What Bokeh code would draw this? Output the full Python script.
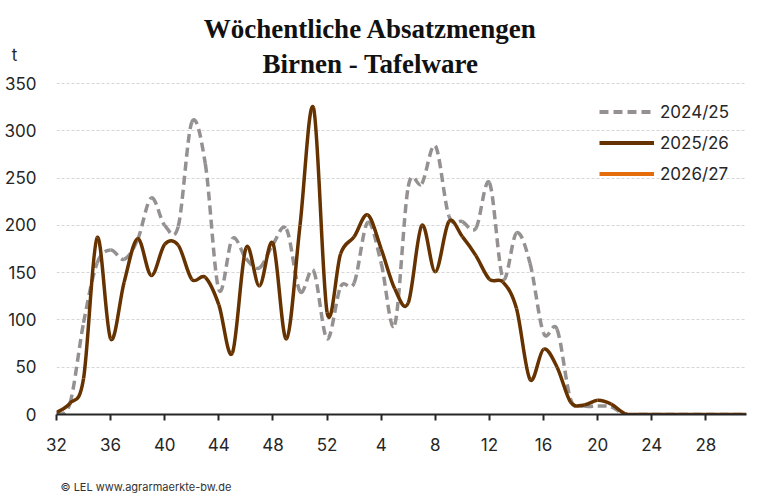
from bokeh.plotting import figure
from bokeh.models import (ColumnDataSource, Range1d, FixedTicker, Label,
                          Legend, LegendItem, Title)
from bokeh.embed import file_html
from bokeh.resources import INLINE

# calendar weeks 32 .. 52, 1 .. 31 (marketing season)
weeks = list(range(32, 53)) + list(range(1, 32))

s2425 = [0, 12, 97, 160, 174, 164, 185, 229, 200, 199, 309, 265, 132, 186,
         165, 155, 180, 196, 130, 152, 80, 135, 139, 203, 160, 95, 241, 244,
         284, 210, 204, 197, 245, 144, 192, 160, 86, 90, 16, 9, 9, 8, 0,
         0, 0, 0, 0, 0, 0, 0, 0, 0]
s2526 = [2, 12, 38, 187, 80, 140, 186, 147, 180, 179, 143, 145, 116, 65,
         176, 136, 181, 80, 200, 324, 108, 170, 188, 211, 175, 133, 118, 200,
         151, 204, 188, 168, 143, 140, 112, 37, 69, 50, 13, 10, 15, 11, 1,
         0, 0, 0, 0, 0, 0, 0, 0, 0]
s2627 = []

season_labels = ["2024/25", "2025/26", "2026/27"]
y_ticks = list(range(0, 351, 50))
tick_every = 4

GRAY = "#959191"
BROWN = "#663300"
ORANGE = "#E46C0A"
FONT = "Inter"
TXT = "#262626"

# plot area in pixels; the frame is stretched upwards so the titles
# (drawn as labels) sit inside it
H, TOP, BOTTOM = 498, 3, 84
y_max = y_ticks[-1]
y_top = y_max * (H - BOTTOM - TOP) / 331
unit_pos = y_max * (H - BOTTOM - 54.5) / 331


def smooth_segments(vals):
    # excel-like smoothed line: cubic bezier segments with catmull-rom handles
    n = len(vals)
    d = dict(x0=[], y0=[], x1=[], y1=[], cx0=[], cy0=[], cx1=[], cy1=[])
    for i in range(n - 1):
        ia, ie = max(i - 1, 0), min(i + 2, n - 1)
        a, b, c, e = vals[ia], vals[i], vals[i + 1], vals[ie]
        d["x0"].append(i)
        d["y0"].append(b)
        d["x1"].append(i + 1)
        d["y1"].append(c)
        d["cx0"].append(i + (i + 1 - ia) / 6)
        d["cy0"].append(b + (c - a) / 6)
        d["cx1"].append(i + 1 - (ie - i) / 6)
        d["cy1"].append(c - (e - b) / 6)
    return ColumnDataSource(d)


p = figure(width=768, height=H, output_backend="svg", toolbar_location=None,
           x_range=Range1d(0, len(weeks) - 1), y_range=Range1d(0, y_top),
           min_border_left=56, min_border_right=22, min_border_top=TOP,
           min_border_bottom=BOTTOM)
p.outline_line_color = None
p.xgrid.grid_line_color = None
p.ygrid.ticker = FixedTicker(ticks=y_ticks)
p.ygrid.grid_line_color = "#d6d6d6"
p.ygrid.grid_line_dash = "3 2"
p.ygrid.grid_line_width = 1

p.yaxis.ticker = FixedTicker(ticks=y_ticks + [unit_pos])
p.yaxis.major_label_overrides = {unit_pos: "t\u00a0\u00a0\u00a0\u00a0"}
p.yaxis.axis_line_color = None
p.yaxis.major_tick_line_color = None
p.yaxis.minor_tick_line_color = None
p.yaxis.major_label_standoff = 14
p.yaxis.major_label_text_font = FONT
p.yaxis.major_label_text_font_size = "17px"
p.yaxis.major_label_text_color = TXT

xt = list(range(0, len(weeks), tick_every))
p.xaxis.ticker = FixedTicker(ticks=xt)
p.xaxis.major_label_overrides = {i: str(weeks[i]) for i in xt}
p.xaxis.axis_line_color = TXT
p.xaxis.axis_line_width = 2
p.xaxis.major_tick_line_color = TXT
p.xaxis.major_tick_line_width = 2
p.xaxis.major_tick_out = 6
p.xaxis.major_tick_in = 0
p.xaxis.minor_tick_line_color = None
p.xaxis.major_label_standoff = 17
p.xaxis.major_label_text_font = FONT
p.xaxis.major_label_text_font_size = "17px"
p.xaxis.major_label_text_color = TXT
# blank axis label only keeps room between week labels and source line
p.xaxis.axis_label = "\u00a0"
p.xaxis.axis_label_standoff = 5
p.xaxis.axis_label_text_font = FONT
p.xaxis.axis_label_text_font_size = "11px"

p.bezier(x0="x0", y0="y0", x1="x1", y1="y1", cx0="cx0", cy0="cy0",
         cx1="cx1", cy1="cy1", source=smooth_segments(s2425),
         line_color=GRAY, line_width=3.5, line_dash="9 5")
p.bezier(x0="x0", y0="y0", x1="x1", y1="y1", cx0="cx0", cy0="cy0",
         cx1="cx1", cy1="cy1", source=smooth_segments(s2526),
         line_color=BROWN, line_width=3.5)

# legend entries (2026/27 has no data yet)
nan = float("nan")
r1 = p.line([0], [nan], line_color=GRAY, line_width=4, line_dash="9 5")
r2 = p.line([0], [nan], line_color=BROWN, line_width=4)
r3 = p.line([0] + list(range(len(s2627))), [nan] + s2627,
            line_color=ORANGE, line_width=4)
legend = Legend(items=[LegendItem(label=season_labels[0], renderers=[r1]),
                       LegendItem(label=season_labels[1], renderers=[r2]),
                       LegendItem(label=season_labels[2], renderers=[r3])],
                location=(543, 230), padding=0, margin=0, spacing=10,
                glyph_width=55, glyph_height=21, label_height=21,
                label_standoff=6, border_line_color=None,
                background_fill_alpha=0)
legend.label_text_font = FONT
legend.label_text_font_size = "17px"
legend.label_text_color = TXT
p.add_layout(legend, "center")

for txt, xo, yo in [("Wöchentliche Absatzmengen", 314, 55),
                    ("Birnen - Tafelware", 314, 20)]:
    p.add_layout(Label(x=0, y=y_max, x_offset=xo, y_offset=yo, text=txt,
                       text_font="Liberation Serif", text_font_style="bold",
                       text_font_size="27px", text_color="#111111",
                       text_align="center", text_baseline="alphabetic"))

p.add_layout(Title(text="© LEL www.agrarmaerkte-bw.de", align="left",
                   offset=4, standoff=4, text_font=FONT,
                   text_font_size="11px", text_font_style="normal",
                   text_color="#333333"), "below")

open("out.html", "w").write(file_html(p, INLINE))
